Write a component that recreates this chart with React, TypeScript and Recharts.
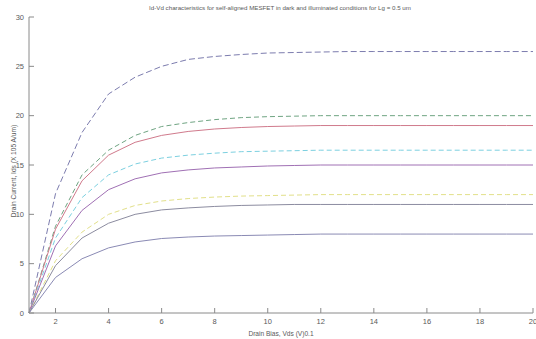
import React from 'react';
import { LineChart, Line, XAxis, YAxis, Label } from 'recharts';

const vds = [1, 2, 3, 4, 5, 6, 7, 8, 9, 10, 11, 12, 13, 14, 15, 16, 17, 18, 19, 20];
const s1 = [0, 12.1, 18.3, 22.2, 23.9, 25.0, 25.7, 26.0, 26.2, 26.35, 26.4, 26.45, 26.5, 26.5, 26.5, 26.5, 26.5, 26.5, 26.5, 26.5];
const s2 = [0, 8.8, 14.0, 16.5, 18.0, 18.9, 19.3, 19.6, 19.8, 19.9, 19.95, 20, 20, 20, 20, 20, 20, 20, 20, 20];
const s3 = [0, 8.5, 13.4, 16.0, 17.3, 18.0, 18.4, 18.65, 18.8, 18.9, 18.95, 19, 19, 19, 19, 19, 19, 19, 19, 19];
const s4 = [0, 7.6, 11.7, 14.0, 15.1, 15.7, 16.0, 16.2, 16.35, 16.4, 16.45, 16.5, 16.5, 16.5, 16.5, 16.5, 16.5, 16.5, 16.5, 16.5];
const s5 = [0, 6.8, 10.4, 12.5, 13.6, 14.2, 14.5, 14.7, 14.8, 14.9, 14.95, 15, 15, 15, 15, 15, 15, 15, 15, 15];
const s6 = [0, 5.3, 8.2, 10.0, 10.9, 11.35, 11.6, 11.75, 11.85, 11.9, 11.95, 12, 12, 12, 12, 12, 12, 12, 12, 12];
const s7 = [0, 4.8, 7.6, 9.1, 10.0, 10.45, 10.65, 10.8, 10.9, 10.95, 11, 11, 11, 11, 11, 11, 11, 11, 11, 11];
const s8 = [0, 3.6, 5.5, 6.6, 7.2, 7.55, 7.7, 7.8, 7.85, 7.9, 7.95, 8, 8, 8, 8, 8, 8, 8, 8, 8];

const xTicks = [2, 4, 6, 8, 10, 12, 14, 16, 18, 20];
const yTicks = [0, 5, 10, 15, 20, 25, 30];

const title = 'Id-Vd characteristics for self-aligned MESFET in dark and illuminated conditions for Lg = 0.5 um';
const xTitle = 'Drain Bias, Vds (V)0.1';
const yTitle = 'Drain Current, Ids (X 105 A/um)';

const series = [
  { key: 's1', color: '#7c7cae', dash: '6 3' },
  { key: 's2', color: '#6fa482', dash: '5 3' },
  { key: 's3', color: '#d07a8c', dash: undefined },
  { key: 's4', color: '#7cd0e0', dash: '5 3' },
  { key: 's5', color: '#a070b4', dash: undefined },
  { key: 's6', color: '#e2e08a', dash: '5 3' },
  { key: 's7', color: '#8c8ca0', dash: undefined },
  { key: 's8', color: '#8a8ab4', dash: undefined },
];

const data = vds.map((x, i) => ({
  x, s1: s1[i], s2: s2[i], s3: s3[i], s4: s4[i], s5: s5[i], s6: s6[i], s7: s7[i], s8: s8[i],
}));

const FONT = '"Liberation Sans", Arial, sans-serif';
const TXT = '#5a5a5a';
const AX = '#8a8a8a';

const XTick = (props: any) => {
  const { x, y, payload } = props;
  return (
    <g>
      <line x1={x} y1={y} x2={x} y2={y - 5} stroke={AX} strokeWidth={1} />
      <text x={x} y={y + 11} textAnchor="middle" fontSize={7.5} fontFamily={FONT} fill={TXT}>{payload.value}</text>
    </g>
  );
};

const YTick = (props: any) => {
  const { x, y, payload } = props;
  return (
    <g>
      <line x1={x} y1={y} x2={x + 5} y2={y} stroke={AX} strokeWidth={1} />
      <text x={x - 5} y={y + 2.5} textAnchor="end" fontSize={7.5} fontFamily={FONT} fill={TXT}>{payload.value}</text>
    </g>
  );
};

export default function App() {
  return (
    <div style={{ position: 'absolute', left: 0, top: 0, width: 536, height: 339, background: '#fff' }}>
      <LineChart width={536} height={339} data={data} margin={{ top: 17, right: 3, bottom: 0, left: 0 }}>
        <text x={280} y={10} textAnchor="middle" fontSize={6.2} fontFamily={FONT} fill={TXT}>{title}</text>
        <XAxis
          dataKey="x"
          type="number"
          domain={[1, 20]}
          ticks={xTicks}
          tickSize={0}
          tickMargin={0}
          tickLine={false}
          tick={<XTick />}
          stroke={AX}
          height={26}
          interval={0}
        >
          <Label value={xTitle} position="insideBottom" offset={3} fontSize={6.6} fontFamily={FONT} fill={TXT} />
        </XAxis>
        <YAxis
          type="number"
          domain={[0, 30]}
          ticks={yTicks}
          tickSize={0}
          tickMargin={0}
          tickLine={false}
          tick={<YTick />}
          stroke={AX}
          width={29}
          interval={0}
        >
          <Label value={yTitle} angle={-90} position="insideLeft" offset={14} dy={6} fontSize={6.6} fontFamily={FONT} fill={TXT} style={{ textAnchor: 'middle' }} />
        </YAxis>
        {series.map((s) => (
          <Line
            key={s.key}
            dataKey={s.key}
            type="linear"
            stroke={s.color}
            strokeWidth={1}
            strokeDasharray={s.dash}
            dot={false}
            activeDot={false}
            isAnimationActive={false}
          />
        ))}
      </LineChart>
    </div>
  );
}
